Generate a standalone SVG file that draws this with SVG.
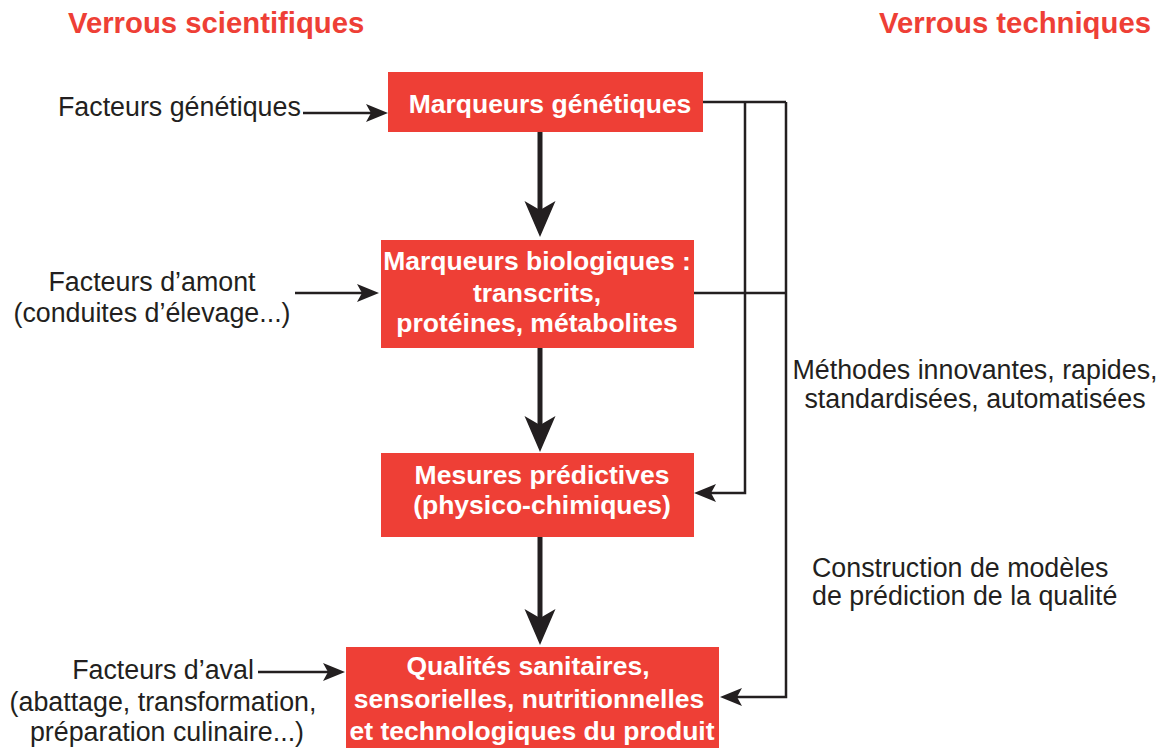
<svg xmlns="http://www.w3.org/2000/svg" width="1159" height="748" viewBox="0 0 1159 748">
<style>
.box{fill:#EE3F36;}
.bt{font-family:"Liberation Sans",Arial,sans-serif;font-weight:bold;font-size:26.5px;fill:#ffffff;text-anchor:middle;}
.lt{font-family:"Liberation Sans",Arial,sans-serif;font-size:26.8px;fill:#231F20;}
.hd{font-family:"Liberation Sans",Arial,sans-serif;font-weight:bold;font-size:29.3px;fill:#EE3F36;}
.thin{fill:none;stroke:#231F20;stroke-width:2.5;}
.thick{fill:none;stroke:#231F20;stroke-width:5;}
</style>
<defs>
<marker id="ah" markerUnits="userSpaceOnUse" markerWidth="30" markerHeight="30" refX="12" refY="0" viewBox="0 -15 30 30" orient="auto" overflow="visible">
<path d="M22,0 L0,-9 L5,0 L0,9 Z" fill="#231F20"/>
</marker>
<marker id="ahl" markerUnits="userSpaceOnUse" markerWidth="40" markerHeight="40" refX="16" refY="0" viewBox="0 -20 40 40" orient="auto" overflow="visible">
<path d="M36,0 L0,-15.5 L9,0 L0,15.5 Z" fill="#231F20"/>
</marker>
</defs>

<text class="hd" x="68" y="33">Verrous scientifiques</text>
<text class="hd" x="1151" y="33" text-anchor="end">Verrous techniques</text>

<g id="connectors">
<path class="thick" d="M540,132 V217" marker-end="url(#ahl)"/>
<path class="thick" d="M540,348 V432" marker-end="url(#ahl)"/>
<path class="thick" d="M540,537 V625" marker-end="url(#ahl)"/>
<path class="thin" d="M303,113 H378" marker-end="url(#ah)"/>
<path class="thin" d="M295,293 H369" marker-end="url(#ah)"/>
<path class="thin" d="M258,672 H335" marker-end="url(#ah)"/>
<path class="thin" d="M703,102 H786 M694,293 H786"/>
<path class="thin" d="M745,102 V493 H704" marker-end="url(#ah)"/>
<path class="thin" d="M786,102 V697 H730" marker-end="url(#ah)"/>
</g>

<g id="n-facteurs-genetiques">
<text class="lt" x="58" y="116">Facteurs génétiques</text>
</g>
<g id="n-facteurs-amont">
<text class="lt" x="152" y="291" text-anchor="middle">Facteurs d’amont</text>
<text class="lt" x="152" y="322" text-anchor="middle">(conduites d’élevage...)</text>
</g>
<g id="n-facteurs-aval">
<text class="lt" x="163" y="679" text-anchor="middle">Facteurs d’aval</text>
<text class="lt" x="163" y="711" text-anchor="middle">(abattage, transformation,</text>
<text class="lt" x="167" y="741" text-anchor="middle">préparation culinaire...)</text>
</g>

<g id="n-marqueurs-genetiques">
<rect class="box" x="388" y="72" width="315" height="60"/>
<text class="bt" x="550" y="113">Marqueurs génétiques</text>
</g>
<g id="n-marqueurs-biologiques">
<rect class="box" x="381" y="240" width="313" height="108"/>
<text class="bt" x="537" y="270">Marqueurs biologiques :</text>
<text class="bt" x="537" y="302">transcrits,</text>
<text class="bt" x="537" y="332">protéines, métabolites</text>
</g>
<g id="n-mesures-predictives">
<rect class="box" x="381" y="453" width="313" height="84"/>
<text class="bt" x="542" y="484">Mesures prédictives</text>
<text class="bt" x="542" y="514">(physico-chimiques)</text>
</g>
<g id="n-qualites">
<rect class="box" x="346" y="647" width="373" height="101"/>
<text class="bt" x="528" y="675">Qualités sanitaires,</text>
<text class="bt" x="529" y="708">sensorielles, nutritionnelles</text>
<text class="bt" x="532" y="740">et technologiques du produit</text>
</g>

<g id="n-methodes">
<text class="lt" x="975" y="379" text-anchor="middle">Méthodes innovantes, rapides,</text>
<text class="lt" x="975" y="408" text-anchor="middle">standardisées, automatisées</text>
</g>
<g id="n-construction">
<text class="lt" x="812" y="577">Construction de modèles</text>
<text class="lt" x="812" y="605">de prédiction de la qualité</text>
</g>
</svg>
